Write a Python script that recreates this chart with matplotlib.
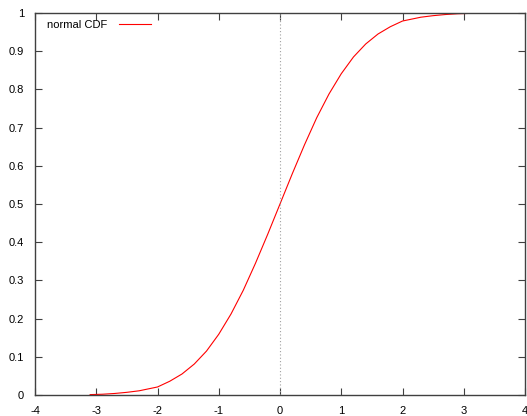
import matplotlib
matplotlib.use("Agg")
import matplotlib.pyplot as plt

x_vals = [-3.1, -2.9, -2.7, -2.5, -2.3, -2.0, -1.8, -1.6, -1.4, -1.2, -1.0,
          -0.8, -0.6, -0.4, -0.2, 0.0, 0.2, 0.4, 0.6, 0.8, 1.0,
          1.2, 1.4, 1.6, 1.8, 2.0, 2.3, 2.5, 2.7, 2.9, 3.1]
cdf_vals = [0.001, 0.002, 0.004, 0.007, 0.011, 0.021, 0.036, 0.055, 0.081, 0.115, 0.159,
            0.212, 0.274, 0.345, 0.421, 0.500, 0.579, 0.655, 0.726, 0.788, 0.841,
            0.885, 0.919, 0.945, 0.964, 0.979, 0.989, 0.993, 0.996, 0.998, 0.999]
x_ticks = [-4, -3, -2, -1, 0, 1, 2, 3, 4]
y_ticks = [0, 0.1, 0.2, 0.3, 0.4, 0.5, 0.6, 0.7, 0.8, 0.9, 1]

plt.rcParams['font.family'] = ['Liberation Sans', 'DejaVu Sans']

fig = plt.figure(figsize=(5.27, 4.16), dpi=100)
ax = fig.add_axes([35 / 527, 21 / 416, 490 / 527, 382 / 416])

ax.plot(x_vals, cdf_vals, color='red', lw=0.8, label='normal CDF')
ax.axvline(0, color='#a0a0a0', lw=0.8, ls=(0, (1, 2)))

ax.set_xlim(-4, 4)
ax.set_ylim(0, 1)
ax.set_xticks(x_ticks)
ax.set_xticklabels([str(t) for t in x_ticks])
ax.set_yticks(y_ticks)
ax.set_yticklabels(['0', '0.1', '0.2', '0.3', '0.4', '0.5', '0.6', '0.7', '0.8', '0.9', '1'])
ax.tick_params(direction='in', length=5, width=0.8, top=True, right=True,
               labelsize=8, pad=8, colors='#404040', labelcolor='black')
for s in ax.spines.values():
    s.set_color('#404040')
    s.set_linewidth(1)

ax.legend(loc='upper left', frameon=False, markerfirst=False, fontsize=8,
          handlelength=2.9, handletextpad=1.1, borderaxespad=0.2,
          bbox_to_anchor=(0.01, 1.0))

fig.savefig('out.png', dpi=100)
